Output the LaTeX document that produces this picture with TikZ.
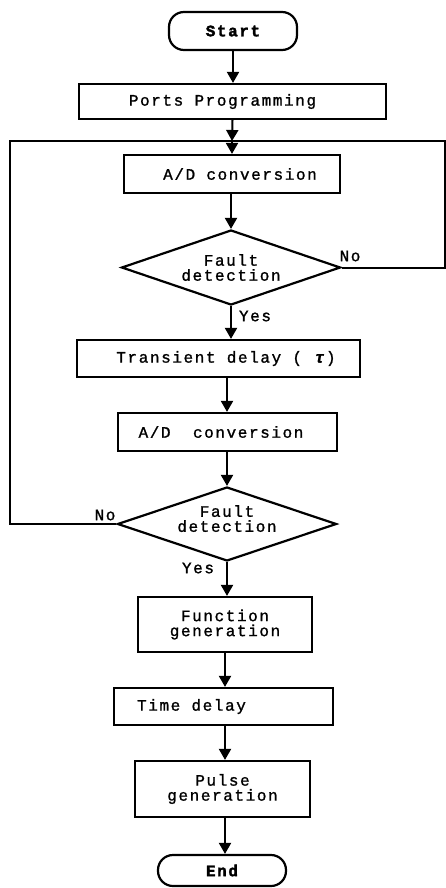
\documentclass[tikz,border=0pt]{standalone}
\usepackage{fontspec}
\setmainfont[LetterSpace=10,FakeBold=1.2]{Liberation Mono}
\newfontfamily\headfont[LetterSpace=10,FakeBold=2]{Liberation Mono Bold}
\usetikzlibrary{arrows.meta,shapes.geometric}
\begin{document}
\begin{tikzpicture}[x=1pt,y=-1pt,
  txt/.style={font=\fontsize{16}{15}\selectfont},
  box/.style={txt, draw, line width=2.2pt, inner sep=0pt, align=center},
  term/.style={draw, line width=2.2pt, rounded corners=15pt, inner sep=0pt, font=\fontsize{16}{15}\selectfont\headfont},
  dec/.style={txt, draw, diamond, line width=2.2pt, inner sep=0pt, align=center, aspect=2.9},
  arr/.style={line width=2pt, -{Triangle[width=12pt,length=11pt]}},
  ln/.style={line width=2pt},
  lbl/.style={txt, inner sep=0pt}
]
\useasboundingbox (0,0) rectangle (446,888);
\node[term, minimum width=128pt, minimum height=38pt] (start) at (233,31) {Start};
\node[box, minimum width=307pt, minimum height=35pt] (ports) at (232.5,101.5) {Ports Programming\hspace*{20pt}};
\node[box, minimum width=216pt, minimum height=38pt] (ad1) at (232,174) {\hspace*{16pt}A/D conversion};
\node[dec, minimum width=219pt, minimum height=75pt] (fd1) at (231,267.5) {Fault\\detection};
\node[box, minimum width=283pt, minimum height=37pt] (tr) at (218.5,358.5) {\hspace*{15pt}Transient delay ( \textbf{\itshape τ})};
\node[box, minimum width=219pt, minimum height=38pt] (ad2) at (227.5,432) {A/D\ \ conversion\hspace*{13pt}};
\node[dec, minimum width=219pt, minimum height=74pt] (fd2) at (227,524) {Fault\\detection\\[-4pt]\mbox{}};
\node[box, minimum width=174pt, minimum height=55pt] (fn) at (225,624.5) {Function\\generation};
\node[box, minimum width=219pt, minimum height=37pt] (td) at (223.5,706.5) {Time delay\hspace*{64pt}};
\node[box, minimum width=175pt, minimum height=56pt] (pu) at (222.5,789) {Pulse\\generation};
\node[term, minimum width=128pt, minimum height=31pt] (en) at (222,870.5) {End};
\node[lbl] (no1) at (350,256) {No};
\node[lbl] (yes1) at (255,316) {Yes};
\node[lbl] (no2) at (105,515) {No};
\node[lbl] (yes2) at (198,568) {Yes};
\coordinate (jn) at (232,141);
\coordinate (lt) at (10,141);
\coordinate (rt) at (445,141);
\draw[arr] (start.south) -- (start.south |- ports.north);
\draw[arr] (ports.south) -- (jn);
\draw[arr] (jn) -- (ad1.north);
\draw[arr] (ad1.south -| fd1.north) -- (fd1.north);
\draw[arr] (fd1.south) -- (fd1.south |- tr.north);
\draw[arr] (tr.south -| fd2.north) -- (ad2.north -| fd2.north);
\draw[arr] (ad2.south -| fd2.north) -- (fd2.north);
\draw[arr] (fd2.south) -- (fd2.south |- fn.north);
\draw[arr] (fn.south) -- (fn.south |- td.north);
\draw[arr] (td.south -| fn.south) -- (pu.north -| fn.south);
\draw[arr] (pu.south -| fn.south) -- (en.north -| fn.south);
\draw[ln] (fd2.west) -| (lt) -- (rt) |- (fd1.east);
\end{tikzpicture}
\end{document}
